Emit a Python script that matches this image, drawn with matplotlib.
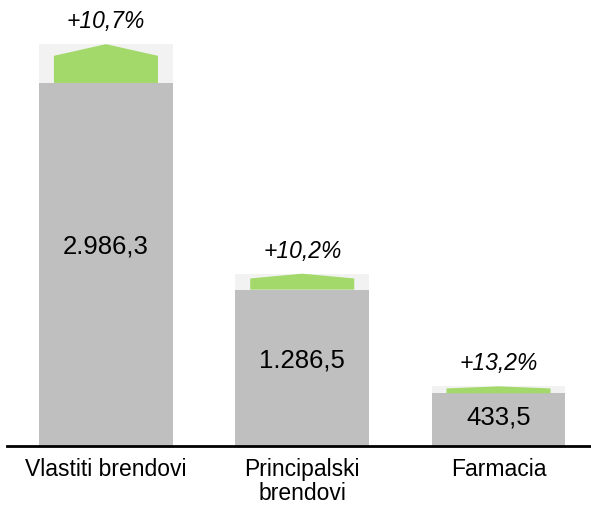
import matplotlib
matplotlib.use("Agg")
import matplotlib.pyplot as plt
from matplotlib.patches import Polygon, Rectangle

categories = ["Vlastiti brendovi", "Principalski\nbrendovi", "Farmacia"]
values = [2986.3, 1286.5, 433.5]
growth_pct = [10.7, 10.2, 13.2]
value_labels = ["2.986,3", "1.286,5", "433,5"]
growth_labels = ["+10,7%", "+10,2%", "+13,2%"]

plt.rcParams['font.family'] = ['Liberation Sans', 'DejaVu Sans']

fig = plt.figure(figsize=(5.91, 5.06), dpi=100)
ax = fig.add_axes([7/591, 59/506, 584/591, 447/506])

bar_w = 0.68
green_w = 0.53
xs = list(range(len(categories)))
ax.bar(xs, values, width=bar_w, color="#BFBFBF", zorder=2)

for x, v, g, vl, gl in zip(xs, values, growth_pct, value_labels, growth_labels):
    h = v * g / 100.0
    ax.add_patch(Rectangle((x - bar_w/2, v), bar_w, h, facecolor="#F2F2F2",
                           edgecolor="none", zorder=1))
    side = v + 0.7 * h
    poly = Polygon([(x - green_w/2, v), (x - green_w/2, side), (x, v + h),
                    (x + green_w/2, side), (x + green_w/2, v)], closed=True,
                   facecolor="#A3D86B", edgecolor="none", zorder=3)
    ax.add_patch(poly)
    ax.text(x, (v + h) / 2, vl, ha="center", va="center",
            fontsize=18.5, color="black", zorder=4)
    ax.annotate(gl, (x, v + h), xytext=(0, 17), textcoords="offset points",
                ha="center", va="center", fontsize=16.5, style="italic", color="black")

ax.set_xlim(-0.504, 2.471)
ax.set_ylim(0, 447/363*2986.3)
for s in ["top", "right", "left"]:
    ax.spines[s].set_visible(False)
ax.spines["bottom"].set_linewidth(2)
ax.spines["bottom"].set_color("black")
ax.set_yticks([])
ax.set_xticks(xs)
ax.set_xticklabels(categories, fontsize=16.5, linespacing=1.05)
ax.tick_params(axis="x", length=0, pad=8)

fig.savefig("out.png", dpi=100)
